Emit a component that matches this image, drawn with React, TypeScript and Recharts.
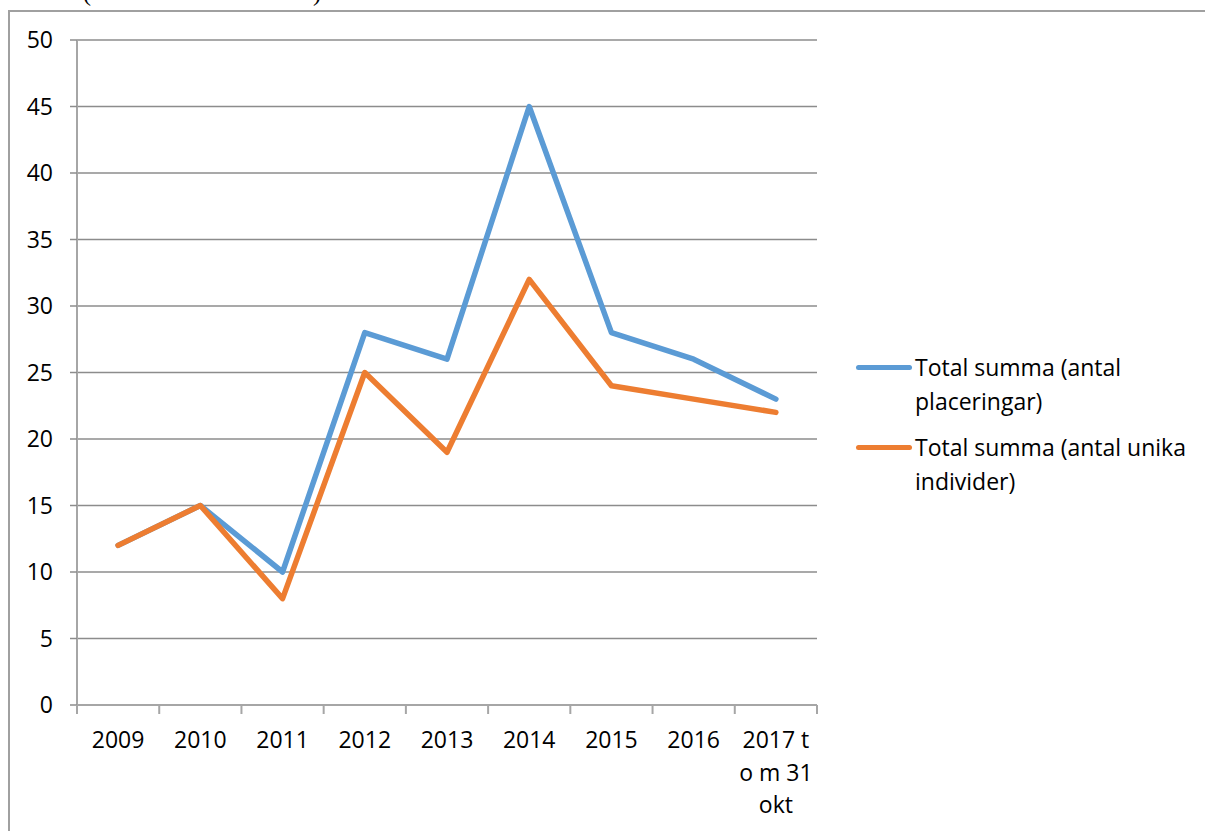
import { LineChart, Line, XAxis, YAxis, CartesianGrid } from 'recharts';

const categories = ['2009', '2010', '2011', '2012', '2013', '2014', '2015', '2016', '2017 t o m 31 okt'];
const placeringar = [12, 15, 10, 28, 26, 45, 28, 26, 23];
const unikaIndivider = [12, 15, 8, 25, 19, 32, 24, 23, 22];
const yTicks = [0, 5, 10, 15, 20, 25, 30, 35, 40, 45, 50];
const seriesNames = ['Total summa (antal placeringar)', 'Total summa (antal unika individer)'];
const seriesColors = ['#5B9BD5', '#ED7D31'];

const FONT = '"Open Sans", sans-serif';
const GRID = '#8c8c8c';
const AXIS = '#a6a6a6';

// plot geometry
const PLOT_LEFT = 77;
const PLOT_RIGHT = 817;
const HALF_BAND = (PLOT_RIGHT - PLOT_LEFT) / categories.length / 2;
const TICK_MARGIN = 27;

const data = categories.map((c, i) => ({
  category: c,
  placeringar: placeringar[i],
  unika: unikaIndivider[i],
}));

// greedy word wrap, the long category label breaks into three lines
function wrapLabel(text: string, maxChars: number): string[] {
  const words = text.split(' ');
  const lines: string[] = [];
  let cur = '';
  words.forEach((w) => {
    const next = cur ? cur + ' ' + w : w;
    if (next.length > maxChars && cur) {
      lines.push(cur);
      cur = w;
    } else {
      cur = next;
    }
  });
  if (cur) lines.push(cur);
  return lines;
}

// label at category centre plus tick marks at the category boundaries
const CategoryTick = ({ x, y, payload, index }: any) => {
  const lines = wrapLabel(String(payload.value), 6);
  const axisY = y - TICK_MARGIN;
  const isLast = index === categories.length - 1;
  return (
    <g>
      <line x1={x - HALF_BAND} x2={x - HALF_BAND} y1={axisY} y2={axisY + 9} stroke={AXIS} strokeWidth={2} />
      {isLast && (
        <line x1={x + HALF_BAND} x2={x + HALF_BAND} y1={axisY} y2={axisY + 9} stroke={AXIS} strokeWidth={2} />
      )}
      <text x={x} y={y} textAnchor="middle" fill="#000" fontSize={23} fontFamily={FONT}>
        {lines.map((l, i) => (
          <tspan key={i} x={x} dy={i === 0 ? '0.71em' : 32.5}>
            {l}
          </tspan>
        ))}
      </text>
    </g>
  );
};

const ChartLegend = () => (
  <div
    style={{
      position: 'absolute',
      left: 856,
      top: 350,
      width: 345,
      fontFamily: FONT,
      fontSize: 23,
      color: '#000',
      lineHeight: '34px',
    }}
  >
    {seriesNames.map((name, i) => (
      <div key={name} style={{ display: 'flex', alignItems: 'flex-start', marginBottom: i === 0 ? 12 : 0 }}>
        <div
          style={{
            width: 56,
            height: 5,
            borderRadius: 3,
            background: seriesColors[i],
            marginTop: 15,
            marginRight: 3,
            flexShrink: 0,
          }}
        />
        <div style={{ width: 285 }}>{name}</div>
      </div>
    ))}
  </div>
);

export default function App() {
  return (
    <div style={{ position: 'relative', width: 1205, height: 831, overflow: 'hidden', background: '#fff' }}>
      <style>{`body{margin:0;overflow:hidden;}`}</style>
      {/* clipped heading above the frame */}
      <span style={{ position: 'absolute', left: 83, top: -19, fontSize: 24, lineHeight: '24px', fontFamily: 'serif' }}>(</span>
      <span style={{ position: 'absolute', left: 313, top: -19, fontSize: 24, lineHeight: '24px', fontFamily: 'serif' }}>)</span>
      <div
        style={{
          position: 'absolute',
          left: 8,
          top: 10,
          width: 1220,
          height: 900,
          border: '2px solid #a0a0a0',
          boxSizing: 'border-box',
        }}
      />
      <div style={{ position: 'absolute', left: 0, top: 0 }}>
        <LineChart
          width={1205}
          height={831}
          data={data}
          margin={{ top: 40, right: 1205 - PLOT_RIGHT, bottom: 16, left: 17 }}
        >
          <CartesianGrid vertical={false} stroke={GRID} strokeWidth={1.5} />
          <XAxis
            dataKey="category"
            height={110}
            padding={{ left: HALF_BAND, right: HALF_BAND }}
            axisLine={{ stroke: AXIS, strokeWidth: 2 }}
            tickLine={false}
            tickSize={0}
            tickMargin={TICK_MARGIN}
            interval={0}
            tick={<CategoryTick />}
          />
          <YAxis
            width={60}
            domain={[0, 50]}
            ticks={yTicks}
            interval={0}
            tickSize={7}
            tickMargin={17}
            axisLine={{ stroke: AXIS, strokeWidth: 2 }}
            tickLine={{ stroke: GRID, strokeWidth: 1.5 }}
            tick={{ fill: '#000', fontSize: 23, fontFamily: FONT }}
          />
          <Line
            dataKey="placeringar"
            name={seriesNames[0]}
            stroke={seriesColors[0]}
            strokeWidth={5.5}
            strokeLinejoin="round"
            strokeLinecap="round"
            dot={false}
            type="linear"
            isAnimationActive={false}
          />
          <Line
            dataKey="unika"
            name={seriesNames[1]}
            stroke={seriesColors[1]}
            strokeWidth={5.5}
            strokeLinejoin="round"
            strokeLinecap="round"
            dot={false}
            type="linear"
            isAnimationActive={false}
          />
        </LineChart>
      </div>
      <ChartLegend />
    </div>
  );
}
